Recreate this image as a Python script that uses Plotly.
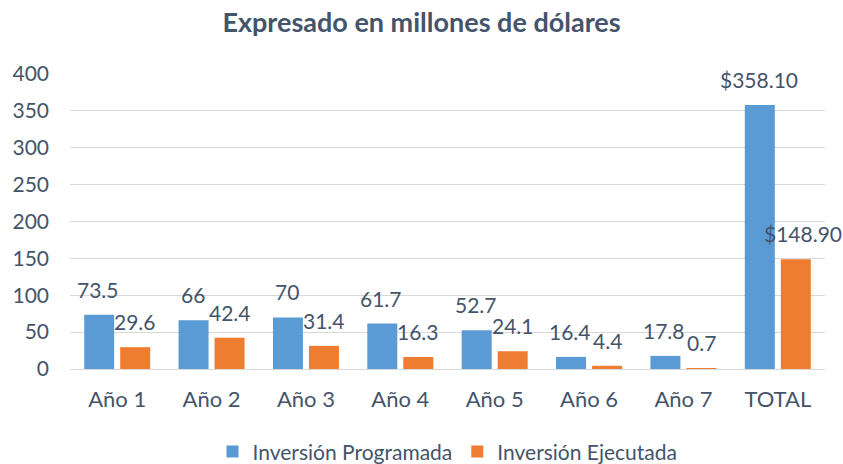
import plotly.graph_objects as go

categories = ["Año 1", "Año 2", "Año 3", "Año 4", "Año 5", "Año 6", "Año 7", "TOTAL"]
programada = [73.5, 66, 70, 61.7, 52.7, 16.4, 17.8, 358.10]
ejecutada = [29.6, 42.4, 31.4, 16.3, 24.1, 4.4, 0.7, 148.90]
labels_prog = ["73.5", "66", "70", "61.7", "52.7", "16.4", "17.8", "$358.10"]
labels_ejec = ["29.6", "42.4", "31.4", "16.3", "24.1", "4.4", "0.7", "$148.90"]
y_ticks = [0, 50, 100, 150, 200, 250, 300, 350, 400]

TXT = "#44546A"
FONT = "Lato, Open Sans, sans-serif"

fig = go.Figure()
fig.add_trace(go.Bar(x=categories, y=programada, name="Inversión Programada",
                     marker=dict(color="#5B9BD5", line=dict(width=0))))
fig.add_trace(go.Bar(x=categories, y=ejecutada, name="Inversión Ejecutada",
                     marker=dict(color="#EE7D31", line=dict(width=0))))

for c, v, t in zip(categories, programada, labels_prog):
    fig.add_annotation(x=c, y=v, text=t, showarrow=False, xshift=-19, yshift=11,
                       yanchor="bottom", font=dict(size=21, color=TXT, family=FONT))
for c, v, t in zip(categories, ejecutada, labels_ejec):
    fig.add_annotation(x=c, y=v, text=t, showarrow=False,
                       xshift=(25 if c == "TOTAL" else 18), yshift=11,
                       yanchor="bottom", font=dict(size=21, color=TXT, family=FONT))

fig.update_layout(
    width=843, height=464,
    margin=dict(l=70, r=18, t=74, b=95, autoexpand=False),
    paper_bgcolor="white", plot_bgcolor="white",
    barmode="group", bargap=0.237, bargroupgap=0.167,
    title=dict(text="<b>Expresado en millones de dólares</b>", x=0.5, xanchor="center",
               y=0.952, yanchor="middle", font=dict(size=27, color=TXT, family=FONT)),
    font=dict(family=FONT, color=TXT, size=21),
    legend=dict(orientation="h", x=0.5, xanchor="center", yref="container", y=0.026,
                yanchor="middle", font=dict(size=21, color=TXT, family=FONT)),
    showlegend=True,
)
fig.update_yaxes(range=[0, 400], tickvals=y_ticks, showgrid=True, gridcolor="#D9D9D9",
                 gridwidth=1, zeroline=False, showline=False, ticks="", automargin=False,
                 tickfont=dict(size=21, color=TXT, family=FONT), ticklabelstandoff=20)
fig.update_xaxes(range=[-0.5, len(categories) - 0.5], showgrid=False, showline=True,
                 linecolor="#D9D9D9", ticks="", automargin=False,
                 tickfont=dict(size=22, color=TXT, family=FONT), ticklabelstandoff=11)

fig.write_html("out.html", config={"displayModeBar": False},
               post_script="document.body.style.margin='0px';")
